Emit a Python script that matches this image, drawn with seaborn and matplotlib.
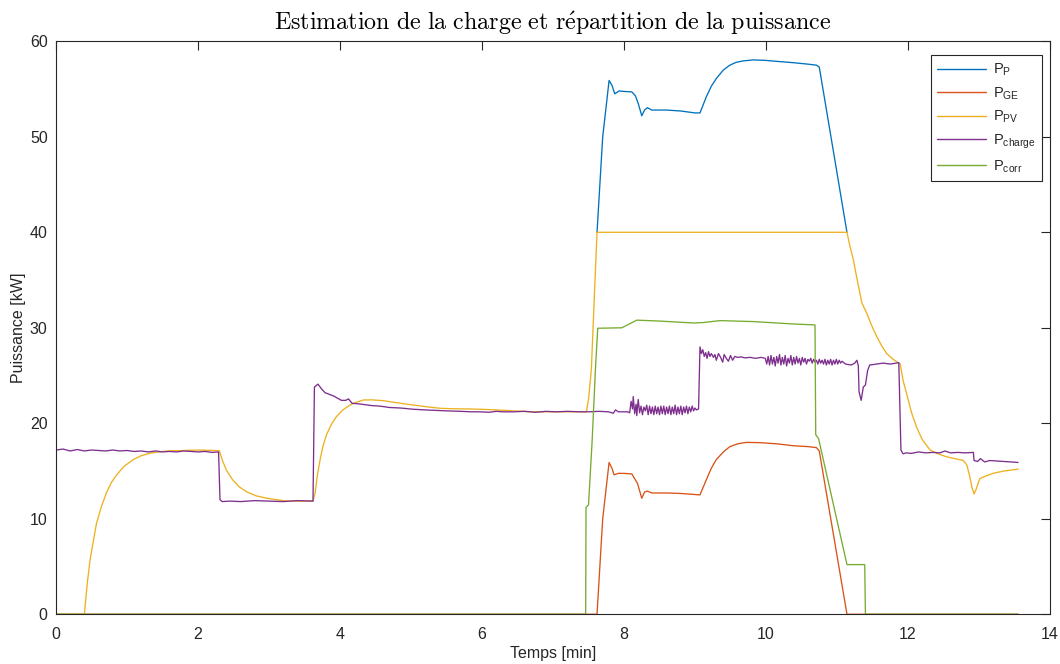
import numpy as np
import pandas as pd
import matplotlib
matplotlib.use("Agg")
import matplotlib.pyplot as plt
import seaborn as sns

# ---------------- data ----------------
t_p = [7.62, 7.70, 7.79, 7.83, 7.87, 7.93, 8.00, 8.11, 8.16, 8.20, 8.25, 8.29, 8.33, 8.39,
       8.60, 8.80, 9.00, 9.07, 9.16, 9.23, 9.30, 9.40, 9.49, 9.58, 9.68, 9.82, 10.0, 10.15,
       10.40, 10.60, 10.71, 10.75, 11.14]
p_p = [40.0, 50.0, 55.9, 55.4, 54.5, 54.8, 54.75, 54.7, 54.3, 53.5, 52.2, 52.8, 53.05, 52.8,
       52.8, 52.7, 52.5, 52.5, 54.2, 55.3, 56.1, 57.0, 57.5, 57.8, 57.95, 58.05, 58.0, 57.9,
       57.75, 57.6, 57.5, 57.3, 40.0]

t_ge = [0.0, 7.62, 7.70, 7.79, 7.83, 7.86, 7.92, 8.00, 8.11, 8.19, 8.25, 8.29, 8.33, 8.39,
        8.60, 8.80, 9.07, 9.16, 9.23, 9.30, 9.40, 9.49, 9.60, 9.72, 9.92, 10.15, 10.38, 10.60,
        10.71, 10.75, 11.14, 13.55]
p_ge = [0.0, 0.0, 10.0, 15.9, 15.3, 14.6, 14.76, 14.75, 14.7, 13.7, 12.15, 12.8, 12.9, 12.7,
        12.7, 12.65, 12.5, 14.1, 15.3, 16.2, 17.0, 17.55, 17.85, 18.0, 17.97, 17.85, 17.65, 17.55,
        17.45, 17.1, 0.0, 0.0]

t_pv = [0.0, 0.40, 0.44, 0.48, 0.57, 0.64, 0.71, 0.78, 0.855, 0.96, 1.09, 1.20, 1.32, 1.45,
        1.56, 1.80, 2.03, 2.30, 2.35, 2.40, 2.49, 2.58, 2.69, 2.82, 2.97, 3.10, 3.25, 3.45,
        3.62, 3.65, 3.68, 3.72, 3.76, 3.81, 3.88, 3.95, 4.04, 4.14, 4.23, 4.33, 4.45, 4.61,
        4.70, 4.85, 4.94, 5.10, 5.25, 5.41, 5.60, 5.80, 5.97, 6.20, 6.44, 6.72, 7.00, 7.25,
        7.47, 7.50, 7.54, 7.58, 7.62, 11.14, 11.18, 11.23, 11.29, 11.35, 11.42, 11.49, 11.56,
        11.63, 11.70, 11.79, 11.89, 11.93, 11.98, 12.05, 12.12, 12.20, 12.31, 12.42, 12.54,
        12.66, 12.78, 12.83, 12.87, 12.90, 12.93, 12.96, 13.01, 13.10, 13.20, 13.35, 13.55]
p_pv = [0.0, 0.0, 3.2, 5.7, 9.5, 11.3, 12.7, 13.8, 14.6, 15.5, 16.2, 16.6, 16.86, 17.0,
        17.1, 17.15, 17.2, 17.13, 16.0, 15.1, 14.06, 13.35, 12.8, 12.4, 12.15, 12.0, 11.86, 11.85,
        11.86, 12.67, 14.5, 16.2, 17.6, 18.8, 19.9, 20.7, 21.4, 21.9, 22.2, 22.44, 22.45, 22.37,
        22.26, 22.1, 22.0, 21.85, 21.7, 21.57, 21.52, 21.5, 21.47, 21.4, 21.3, 21.2, 21.2, 21.2,
        21.2, 22.5, 25.6, 32.9, 40.0, 40.0, 38.6, 37.1, 34.8, 32.6, 31.5, 30.2, 29.07,
        28.1, 27.3, 26.7, 26.2, 24.5, 23.1, 21.1, 19.6, 18.3, 17.2, 16.8, 16.5,
        16.3, 16.1, 15.6, 14.4, 13.3, 12.6, 13.1, 14.2, 14.5, 14.76, 15.0, 15.2]

t_charge = [0.00, 0.10, 0.20, 0.30, 0.40, 0.50, 0.60, 0.70, 0.80, 0.90, 1.00, 1.10, 1.20, 1.30,
            1.40, 1.50, 1.60, 1.70, 1.80, 1.90, 2.00, 2.10, 2.20, 2.29, 2.31, 2.34, 2.45, 2.60,
            2.80, 3.00, 3.20, 3.40, 3.62, 3.64, 3.69, 3.74, 3.79, 3.91, 4.02, 4.08, 4.12, 4.17,
            4.30, 4.45, 4.56, 4.70, 4.85, 5.03, 5.20, 5.35, 5.50, 5.70, 5.85, 5.97, 6.10, 6.20,
            6.30, 6.44, 6.60, 6.75, 6.90, 7.05, 7.20, 7.38, 7.50, 7.65, 7.78, 7.85, 7.88, 7.92,
            8.05, 8.08,
            8.10, 8.12, 8.13, 8.15, 8.17, 8.18, 8.20, 8.22, 8.24, 8.26, 8.28, 8.30, 8.32, 8.34,
            8.36, 8.38, 8.40, 8.42, 8.44, 8.46, 8.48, 8.50, 8.52, 8.54, 8.56, 8.58, 8.60, 8.62,
            8.64, 8.66, 8.68, 8.70, 8.72, 8.74, 8.76, 8.78, 8.80, 8.82, 8.84, 8.86, 8.88, 8.90,
            8.92, 8.94, 8.96, 8.98, 9.00, 9.02, 9.05,
            9.07, 9.09, 9.11, 9.13, 9.15, 9.17, 9.19, 9.21, 9.23, 9.26, 9.28, 9.30, 9.33, 9.36,
            9.39, 9.41, 9.44, 9.47, 9.50, 9.53, 9.56, 9.60, 9.65, 9.70, 9.78, 9.85, 9.93, 9.99,
            10.01, 10.03, 10.05, 10.07, 10.09, 10.11, 10.13, 10.15, 10.17, 10.19, 10.21, 10.23,
            10.25, 10.27, 10.29, 10.31, 10.33, 10.35, 10.37, 10.39, 10.41, 10.43, 10.45, 10.47,
            10.49, 10.51, 10.53, 10.55, 10.57, 10.59, 10.61, 10.63, 10.65, 10.67, 10.69, 10.71,
            10.73, 10.75, 10.77, 10.79, 10.81, 10.83, 10.85, 10.87, 10.89, 10.91, 10.93, 10.95,
            10.97, 10.99, 11.01, 11.03, 11.05, 11.07,
            11.12, 11.20, 11.25, 11.28, 11.30, 11.31, 11.34, 11.37, 11.40, 11.43, 11.46, 11.55,
            11.65, 11.75, 11.87, 11.90, 11.93, 11.97, 12.05, 12.15, 12.25, 12.35, 12.45, 12.52,
            12.60, 12.70, 12.80, 12.92, 12.93, 12.98, 13.02, 13.08, 13.15, 13.25, 13.35, 13.45,
            13.55]
p_charge = [17.2, 17.3, 17.1, 17.25, 17.1, 17.2, 17.15, 17.1, 17.2, 17.1, 17.15, 17.05, 17.1, 17.0,
            17.1, 17.0, 17.05, 17.0, 17.1, 17.05, 17.0, 17.05, 16.95, 17.0, 12.0, 11.8, 11.85, 11.8,
            11.9, 11.85, 11.8, 11.9, 11.85, 23.8, 24.1, 23.6, 23.2, 22.86, 22.4, 22.4, 22.55, 22.1,
            22.0, 21.85, 21.8, 21.65, 21.6, 21.47, 21.4, 21.35, 21.3, 21.25, 21.2, 21.2, 21.15, 21.25,
            21.2, 21.2, 21.25, 21.15, 21.25, 21.2, 21.25, 21.2, 21.2, 21.25, 21.2, 21.05, 21.4, 21.2,
            21.2, 21.1,
            22.3, 21.5, 22.8, 21.0, 22.0, 20.8, 22.5, 21.1, 21.8, 20.9, 21.7, 21.3, 21.9, 20.9,
            21.8, 21.0, 21.7, 20.9, 21.8, 21.0, 21.7, 20.9, 21.8, 21.0, 21.8, 20.9, 21.7, 21.0,
            21.8, 20.9, 21.7, 21.0, 21.9, 20.9, 21.7, 21.0, 21.8, 20.9, 21.7, 21.1, 21.8, 21.0,
            21.7, 21.2, 21.8, 21.3, 21.6, 21.4, 21.5,
            28.0, 27.3, 27.7, 27.0, 27.4, 26.8, 27.5, 27.0, 27.3, 26.9, 27.2, 26.6, 27.3, 26.9,
            26.4, 27.2, 26.8, 26.5, 27.1, 26.6, 27.0, 26.9, 26.95, 26.85, 26.9, 26.8, 26.9, 26.8,
            26.2, 27.0, 26.1, 27.1, 26.2, 26.9, 26.0, 27.0, 26.3, 27.2, 26.1, 26.9,
            26.2, 27.1, 26.0, 26.8, 26.3, 27.1, 26.1, 26.9, 26.2, 27.0, 26.3, 26.8,
            26.1, 26.9, 26.4, 26.8, 26.2, 26.7, 26.5, 26.8, 26.3, 26.7, 26.4, 26.6,
            26.2, 26.7, 26.3, 26.6, 26.2, 26.7, 26.1, 26.6, 26.2, 26.7, 26.1, 26.6,
            26.2, 26.7, 26.2, 26.6, 26.3, 26.5,
            26.2, 26.1, 26.3, 26.6, 26.0, 23.3, 22.4, 23.8, 24.0, 25.5, 26.1, 26.2,
            26.3, 26.2, 26.35, 17.2, 16.8, 16.9, 16.85, 17.0, 16.9, 16.95, 16.9, 17.1,
            16.9, 16.95, 16.9, 16.95, 16.1, 16.0, 16.3, 15.95, 16.1, 16.05, 16.0, 15.95,
            15.9]

t_corr = [0.0, 7.46, 7.465, 7.50, 7.55, 7.60, 7.63, 7.97, 8.18, 8.51, 8.98, 9.12, 9.35, 9.82,
          10.38, 10.69, 10.70, 10.74, 11.14, 11.39, 11.40, 13.55]
p_corr = [0.0, 0.0, 11.2, 11.45, 18.0, 26.0, 29.95, 30.0, 30.8, 30.7, 30.5, 30.55, 30.75, 30.65,
          30.4, 30.3, 18.8, 18.4, 5.2, 5.2, 0.0, 0.0]

labels = [r"P$_{\mathrm{P}}$", r"P$_{\mathrm{GE}}$", r"P$_{\mathrm{PV}}$",
          r"P$_{\mathrm{charge}}$", r"P$_{\mathrm{corr}}$"]
colors = ["#0072BD", "#D95319", "#EDB120", "#7E2F8E", "#77AC30"]

# ---------------- plot ----------------
sns.set_theme(style="white")
plt.rcParams["font.family"] = ["Liberation Sans", "DejaVu Sans"]
plt.rcParams["mathtext.fontset"] = "custom"
plt.rcParams["mathtext.rm"] = "Liberation Sans"
plt.rcParams["mathtext.it"] = "Liberation Sans:italic"

fig = plt.figure(figsize=(10.6, 6.64), dpi=100)
ax = fig.add_axes([0.0528, 0.0749, 0.9378, 0.8629])

series = [(t_p, p_p), (t_ge, p_ge), (t_pv, p_pv), (t_charge, p_charge), (t_corr, p_corr)]
for (tx, py), lab, col in zip(series, labels, colors):
    df = pd.DataFrame({"t": tx, "p": py})
    sns.lineplot(data=df, x="t", y="p", ax=ax, color=col, label=lab,
                 linewidth=0.95, estimator=None, sort=False)

ax.set_xlim(0, 14)
ax.set_ylim(0, 60)
ax.set_xticks(np.arange(0, 15, 2))
ax.set_yticks(np.arange(0, 61, 10))
ax.tick_params(direction="in", length=6.5, width=0.8, colors="#262626",
               labelsize=11.5, top=True, right=True)
ax.tick_params(axis="x", pad=9)
ax.tick_params(axis="y", pad=6)
for s in ax.spines.values():
    s.set_color("#262626")
    s.set_linewidth(0.8)
    s.set_visible(True)

ax.set_xlabel("Temps [min]", fontsize=11.5, color="#262626", labelpad=3)
ax.set_ylabel("Puissance [kW]", fontsize=11.5, color="#262626", labelpad=3)
ax.set_title(r"$\mathrm{Estimation\ de\ la\ charge\ et\ r\acute{e}partition\ de\ la\ puissance}$",
             fontsize=17.3, math_fontfamily="cm", color="black", pad=8)

leg = ax.legend(loc="upper right", bbox_to_anchor=(0.992, 0.976), borderaxespad=0,
                fontsize=10.5, frameon=True, fancybox=False, edgecolor="#262626",
                framealpha=1, handlelength=3.3, handletextpad=0.5, labelspacing=0.5,
                borderpad=0.45)
leg.get_frame().set_linewidth(0.8)
for h in leg.get_lines():
    h.set_linewidth(1.0)

fig.savefig("out.png", dpi=100)
